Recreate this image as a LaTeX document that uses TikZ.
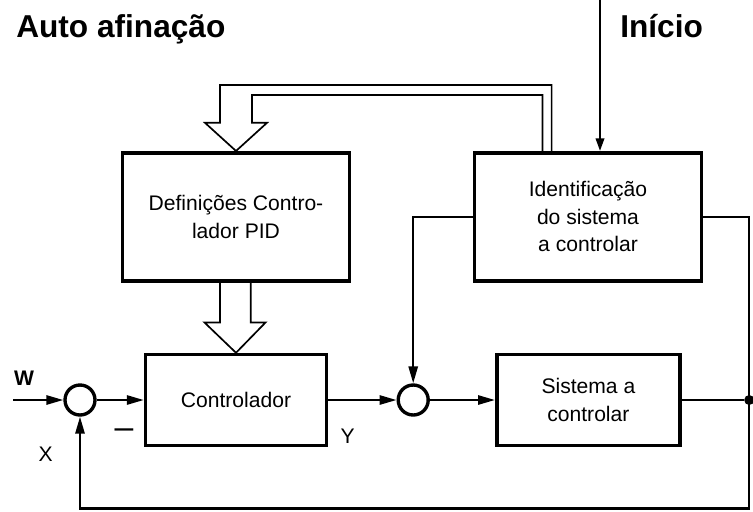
\documentclass[tikz,border=0pt]{standalone}
\usepackage{fontspec}
\setmainfont{Liberation Sans}
\usetikzlibrary{positioning, arrows.meta, calc}

\begin{document}
\begin{tikzpicture}[
    block/.style={draw, line width=2.6pt, align=center, inner sep=0pt, font=\fontsize{15}{19.5}\selectfont},
    sumpt/.style={draw, circle, line width=2.4pt, minimum size=0.75cm, inner sep=0pt},
    conn/.style={line width=1.6pt, -{Triangle[length=12pt, width=6.5pt]}},
    hollow/.style={line width=1.2pt, line join=miter},
    lbl/.style={font=\fontsize{15}{18}\selectfont, inner sep=0pt},
    heading/.style={anchor=base west, inner sep=0pt, font=\fontsize{22.5}{26}\selectfont\bfseries}
  ]
  \useasboundingbox (0,0) rectangle (18.825,-12.775);
  % Titles
  \node[heading] (title) at (0.4,-0.925) {Auto afinação};
  \node[heading] (inicio) at (15.5,-0.925) {Início};
  % Blocks
  \node[block, minimum width=5.67cm, minimum height=3.2cm] (def) at (5.9,-5.42) {Definições Contro-\\lador PID};
  \node[block, minimum width=5.67cm, minimum height=3.2cm] (ident) at (14.7,-5.42) {Identificação\\do sistema\\a controlar};
  \node[block, minimum width=4.52cm, minimum height=2.27cm] (ctrl) at (5.9,-10) {Controlador};
  \node[block, minimum width=4.58cm, minimum height=2.27cm] (plant) at (14.71,-10) {Sistema a\\controlar};
  % Summing points
  \node[sumpt] (s1) at (2.0,-10) {};
  \node[sumpt] (s2) at (10.33,-10) {};
  \node[circle, fill, minimum size=0.25cm, inner sep=0pt] (dot) at (18.73,-10) {};
  \coordinate (win) at (0.33,-10);
  \coordinate (start) at (15,0);
  \coordinate (bot) at (18.73,-12.71);
  % Signal lines
  \draw[conn] (win) -- (s1);
  \draw[conn] (s1) -- (ctrl);
  \draw[conn] (ctrl) -- (s2);
  \draw[conn] (s2) -- (plant);
  \draw[line width=1.6pt] (plant) -- (dot);
  \draw[conn] (ident.east) -| (bot) -| (s1);
  \draw[conn] (ident.west) -| (s2);
  \draw[conn, -{Triangle[length=9pt, width=6pt]}] (start) -- (start |- ident.north);
  % Hollow arrows
  \draw[hollow] (13.79,0 |- ident.north) -- (13.79,-2.125) -- (5.5,-2.125) -- (5.5,-3.07) -- (5.125,-3.07)
    -- (def.north) -- (6.675,-3.07) -- (6.3,-3.07) -- (6.3,-2.375) -- (13.56,-2.375) -- (13.56,0 |- ident.north);
  \draw[hollow] (5.5,0 |- def.south) -- (5.5,-8.06) -- (5.11,-8.06) -- (ctrl.north)
    -- (6.64,-8.06) -- (6.27,-8.06) -- (6.27,0 |- def.south);
  % Labels
  \node[lbl, font=\fontsize{15}{18}\selectfont\bfseries] (wlab) at (0.6,-9.45) {W};
  \node[lbl] (xlab) at (1.14,-11.35) {X};
  \node[lbl, font=\fontsize{24}{26}\selectfont] (minus) at (3.1,-10.83) {–};
  \node[lbl] (ylab) at (8.69,-10.9) {Y};
\end{tikzpicture}
\end{document}
